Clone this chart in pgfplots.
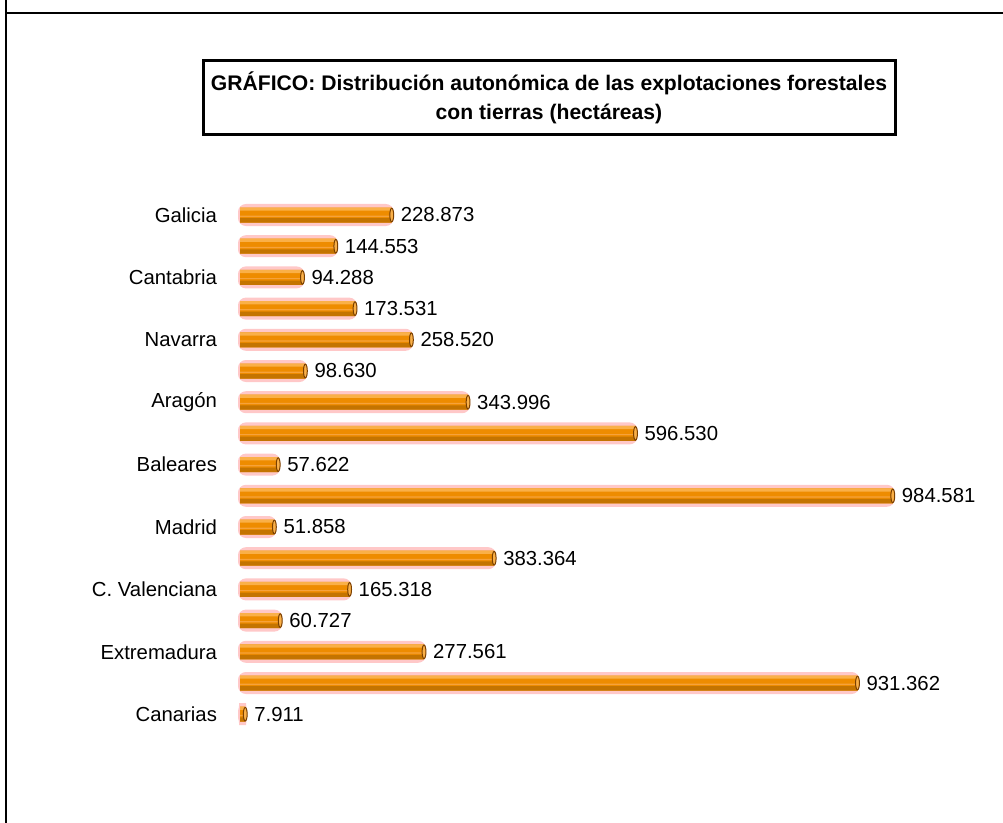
\documentclass[border=0pt]{standalone}
\usepackage{pgfplots}
\pgfplotsset{compat=1.18}
\usepackage{pgfplotstable}
\usepackage{fontspec}
\setmainfont{Liberation Sans}
\definecolor{glow}{HTML}{FFC8C8}
\definecolor{orlight}{HTML}{FAB048}
\definecolor{ormid}{HTML}{EE8C00}
\definecolor{orhi}{HTML}{F6A23A}
\definecolor{ordark}{HTML}{C47400}
\definecolor{capc}{HTML}{7A4000}

\pgfplotstableread{
pos val lab
0  228.873 228.873
1  144.553 144.553
2  94.288  94.288
3  173.531 173.531
4  258.520 258.520
5  98.630  98.630
6  343.996 343.996
7  596.530 596.530
8  57.622  57.622
9  984.581 984.581
10 51.858  51.858
11 383.364 383.364
12 165.318 165.318
13 60.727  60.727
14 277.561 277.561
15 931.362 931.362
16 7.911   7.911
}\datatable

\begin{document}
\begin{tikzpicture}
\useasboundingbox (0bp,0bp) rectangle (501.5bp,411.5bp);
% outer frame (top and left)
\draw[line width=1.2bp] (3bp,411.5bp) -- (3bp,0bp);
\draw[line width=1.2bp] (2.5bp,405bp) -- (501.5bp,405bp);
% title box
\draw[line width=1.5bp] (101.5bp,381bp) rectangle (447.5bp,344bp);
\node[align=center, font=\bfseries\fontsize{10.6}{14.5}\selectfont] at (274.5bp,362.5bp)
  {GRÁFICO: Distribución autonómica de las explotaciones forestales\\
   con tierras (hectáreas)};
\begin{axis}[
  at={(120bp,46.6bp)}, anchor=south west,
  width=331.5bp, height=265.2bp, scale only axis,
  xmin=0, xmax=1000,
  ymin=-0.5, ymax=16.5, y dir=reverse,
  axis line style={draw=none},
  xtick=\empty,
  ytick={0,...,16},
  yticklabels={Galicia,,Cantabria,,Navarra,,Aragón,,Baleares,,Madrid,,C. Valenciana,,Extremadura,,Canarias},
  major tick length=0pt,
  yticklabel style={font=\fontsize{10.2}{12}\selectfont, anchor=east, xshift=-8bp},
  clip=false,
]
% pink glow
\addplot[xbar, bar width=9bp, bar shift=0pt, fill=glow, draw=glow, line width=2bp, rounded corners=3bp]
  table[x=val, y=pos] {\datatable};
% orange body
\addplot[xbar, bar width=7.5bp, bar shift=0pt, draw=none, fill=ormid]
  table[x=val, y=pos] {\datatable};
% top light stripe
\addplot[xbar, bar width=1.6bp, bar shift=2.95bp, draw=none, fill=orlight]
  table[x=val, y=pos] {\datatable};
% bottom dark stripe
\addplot[xbar, bar width=2.2bp, bar shift=-2.65bp, draw=none, fill=ordark]
  table[x=val, y=pos] {\datatable};
% middle highlight
\addplot[xbar, bar width=0.6bp, bar shift=-0.6bp, draw=none, fill=orhi]
  table[x=val, y=pos] {\datatable};
% end caps and value labels
\addplot[only marks, mark=*, mark size=3.4bp,
  mark options={xscale=0.28, fill=orlight, draw=capc, line width=0.5bp},
  nodes near coords, point meta=explicit symbolic,
  every node near coord/.style={anchor=west, xshift=1bp, text=black, font=\fontsize{10.2}{12}\selectfont}]
  table[x=val, y=pos, meta=lab] {\datatable};
\end{axis}
\end{tikzpicture}
\end{document}
